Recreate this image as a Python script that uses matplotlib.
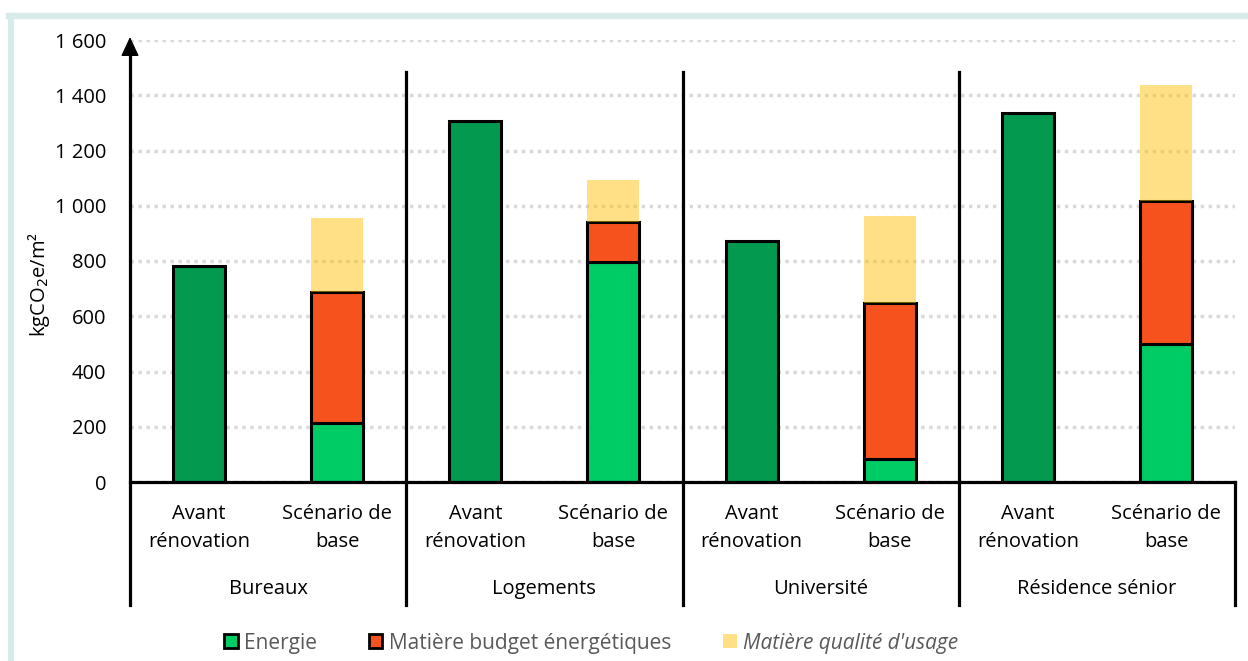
import numpy as np
import matplotlib.pyplot as plt
from matplotlib.patches import Rectangle
from matplotlib.lines import Line2D

# data (kgCO2e/m2)
groups = ['Bureaux', 'Logements', 'Université', 'Résidence sénior']
scenarios = ['Avant\nrénovation', 'Scénario de\nbase']
avant = [782, 1308, 872, 1336]
energie = [213, 795, 83, 500]
mat_budget = [475, 146, 565, 518]
mat_usage = [267, 152, 315, 419]
yticks = [0, 200, 400, 600, 800, 1000, 1200, 1400, 1600]
ytick_labels = ['0', '200', '400', '600', '800', '1 000', '1 200', '1 400', '1 600']
series_names = ['Energie', 'Matière budget énergétiques', "Matière qualité d'usage"]

c_dark = '#03994E'
c_green = '#00CC66'
c_red = '#F5521E'
c_yellow = (1.0, 0.75, 0.0, 0.47)

plt.rcParams['font.family'] = ['Open Sans', 'DejaVu Sans']
fs = 14.5

W, H = 1248, 661
fig = plt.figure(figsize=(W / 100, H / 100), dpi=100)

# light frame (left and top edges only show)
fig.lines.append(Line2D([11 / W, 11 / W], [0, (H - 16) / H], transform=fig.transFigure,
                        color='#D7EBEB', lw=4.5))
fig.lines.append(Line2D([9 / W, 1], [(H - 16) / H, (H - 16) / H], transform=fig.transFigure,
                        color='#D7EBEB', lw=4.5))

x0, x1, y0, y1 = 130, 1235, 482, 40
ax = fig.add_axes([x0 / W, (H - y0) / H, (x1 - x0) / W, (y0 - y1) / H])
ax.set_xlim(0, 8)
ax.set_ylim(0, 1600)
for s in ax.spines.values():
    s.set_visible(False)

ax.set_yticks(yticks)
ax.set_yticklabels(ytick_labels, fontsize=fs)
ax.tick_params(axis='y', length=0, pad=17)
ax.set_xticks([])
ax.yaxis.grid(True, color='#D9D9D9', lw=2.5, linestyle=(0, (1, 1.3)), zorder=0)
ax.set_axisbelow(True)
ax.set_ylabel('kgCO$_2$e/m²', fontsize=fs)
ax.yaxis.set_label_coords((52 - x0) / (x1 - x0), (y0 - 285) / (y0 - y1))

bw = 0.377
xa = np.arange(4) * 2 + 0.5
xs = np.arange(4) * 2 + 1.5
ax.bar(xa, avant, bw, color=c_dark, edgecolor='black', lw=2.2, zorder=3)
ax.bar(xs, energie, bw, color=c_green, edgecolor='black', lw=2.2, zorder=3)
ax.bar(xs, mat_budget, bw, bottom=energie, color=c_red, edgecolor='black', lw=2.2, zorder=3)
ax.bar(xs, mat_usage, bw, bottom=np.add(energie, mat_budget), color=c_yellow, lw=0, zorder=4)

# axes lines
def ypx(p):
    return (y0 - p) / (y0 - y1) * 1600

ybot = ypx(605)
ax.plot([0, 8], [0, 0], color='black', lw=2.3, clip_on=False, zorder=5)
ax.plot([0, 0], [ybot, ypx(50)], color='black', lw=2.3, clip_on=False, zorder=5)
ax.annotate('', xy=(0, ypx(37)), xytext=(0, ypx(56)), annotation_clip=False,
            arrowprops=dict(arrowstyle='-|>,head_length=0.6,head_width=0.28', color='black',
                            lw=1, mutation_scale=20, shrinkA=0, shrinkB=0), zorder=6)
for xg in [2, 4, 6]:
    ax.plot([xg, xg], [ybot, 1485], color='black', lw=2.3, clip_on=False, zorder=5)
ax.plot([8, 8], [ybot, 0], color='black', lw=2.3, clip_on=False, zorder=5)

# category labels
for i, g in enumerate(groups):
    ax.text(xa[i], ypx(528), scenarios[0], ha='center', va='center',
            fontsize=fs, linespacing=1.5)
    ax.text(xs[i], ypx(528), scenarios[1], ha='center', va='center',
            fontsize=fs, linespacing=1.5)
    ax.text(i * 2 + 1, ypx(589), g, ha='center', va='center', fontsize=fs)

# legend
handles = [Rectangle((0, 0), 1, 1, fc=c_green, ec='black', lw=2),
           Rectangle((0, 0), 1, 1, fc=c_red, ec='black', lw=2),
           Rectangle((0, 0), 1, 1, fc=c_yellow, lw=0)]
leg = fig.legend(handles, series_names, loc='center', bbox_to_anchor=(591 / W, (H - 643) / H),
                 ncol=3, frameon=False, fontsize=15, handlelength=0.65, handleheight=0.65,
                 handletextpad=0.3, columnspacing=2.5, labelcolor='#595959')
leg.get_texts()[2].set_style('italic')

fig.savefig('out.png', dpi=100)
